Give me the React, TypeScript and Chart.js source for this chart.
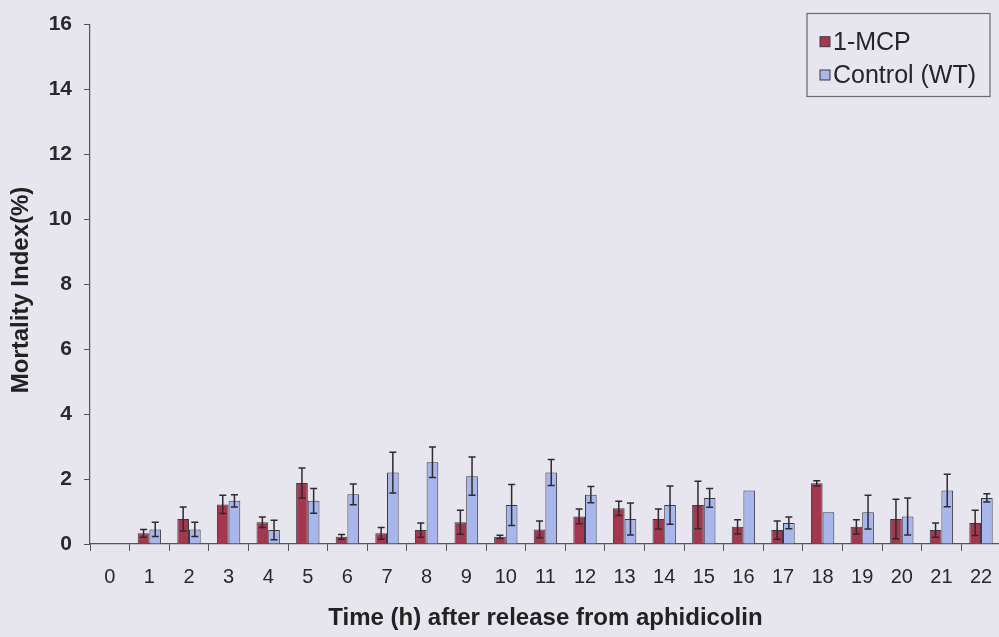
import React, { useEffect, useRef } from "react";
import { Chart, registerables } from "chart.js";

Chart.register(...registerables);

const categories = ["0","1","2","3","4","5","6","7","8","9","10","11","12","13","14","15","16","17","18","19","20","21","22"];
const mcpValues = [0, 0.33, 0.77, 1.22, 0.67, 1.88, 0.22, 0.33, 0.43, 0.67, 0.22, 0.45, 0.85, 1.1, 0.77, 1.2, 0.53, 0.43, 1.87, 0.53, 0.77, 0.43, 0.65];
const mcpErrors = [0, 0.12, 0.37, 0.28, 0.16, 0.46, 0.07, 0.18, 0.22, 0.37, 0.05, 0.26, 0.23, 0.22, 0.31, 0.73, 0.22, 0.28, 0.08, 0.22, 0.61, 0.22, 0.39];
const controlValues = [0, 0.45, 0.45, 1.33, 0.43, 1.33, 1.53, 2.2, 2.52, 2.09, 1.2, 2.2, 1.52, 0.77, 1.2, 1.42, 1.65, 0.65, 0.98, 0.98, 0.85, 1.65, 1.42];
const controlErrors = [0, 0.22, 0.22, 0.19, 0.3, 0.38, 0.32, 0.63, 0.47, 0.59, 0.63, 0.4, 0.25, 0.49, 0.59, 0.29, 0, 0.18, 0, 0.52, 0.57, 0.5, 0.13];
const seriesLabels = ["1-MCP", "Control (WT)"];
const yTicks = [0, 2, 4, 6, 8, 10, 12, 14, 16];
const yTitle = "Mortality Index(%)";
const xTitle = "Time (h) after release from aphidicolin";

const RED = "#a3374e";
const BLUE = "#a9b6ec";
const BORDER = "#3c3a44";
const BG = "#e7e5ee";
const FONT = "Arial, 'Liberation Sans', sans-serif";

const errorBarPlugin = {
  id: "errorBars",
  afterDatasetsDraw(chart: any) {
    const ctx = chart.ctx;
    const yScale = chart.scales.y;
    const errs = [mcpErrors, controlErrors];
    ctx.save();
    chart.data.datasets.forEach((ds: any, di: number) => {
      const meta = chart.getDatasetMeta(di);
      meta.data.forEach((bar: any, i: number) => {
        const v = ds.data[i];
        const e = errs[di][i];
        if (!e) return;
        const x = bar.x;
        const yTop = yScale.getPixelForValue(v + e);
        const yBot = yScale.getPixelForValue(Math.max(0, v - e));
        ctx.strokeStyle = "#2e2a30";
        ctx.lineWidth = 1.5;
        ctx.beginPath();
        ctx.moveTo(x, yTop);
        ctx.lineTo(x, yBot);
        ctx.moveTo(x - 3.5, yTop);
        ctx.lineTo(x + 3.5, yTop);
        ctx.moveTo(x - 3.5, yBot);
        ctx.lineTo(x + 3.5, yBot);
        ctx.stroke();
      });
    });
    ctx.restore();
  },
};

const legendPlugin = {
  id: "boxLegend",
  afterDraw(chart: any) {
    const ctx = chart.ctx;
    ctx.save();
    // y-axis title
    ctx.translate(21, 290);
    ctx.rotate(-Math.PI / 2);
    ctx.font = `bold 24px ${FONT}`;
    ctx.fillStyle = "#222";
    ctx.textAlign = "center";
    ctx.textBaseline = "middle";
    ctx.fillText(yTitle, 0, 0);
    ctx.restore();

    ctx.save();
    const bx = 807, by = 13.5, bw = 183, bh = 83;
    ctx.strokeStyle = "#6a6870";
    ctx.lineWidth = 1.2;
    ctx.strokeRect(bx, by, bw, bh);
    const colors = [RED, BLUE];
    const ys = [41.7, 75];
    ctx.font = `25px ${FONT}`;
    ctx.textBaseline = "middle";
    ctx.textAlign = "left";
    chart.data.datasets.forEach((ds: any, i: number) => {
      ctx.fillStyle = colors[i];
      ctx.fillRect(820, ys[i] - 5, 10, 10);
      ctx.strokeStyle = BORDER;
      ctx.lineWidth = 1;
      ctx.strokeRect(820, ys[i] - 5, 10, 10);
      ctx.fillStyle = "#262428";
      ctx.fillText(ds.label, 833, ys[i] + 1);
    });
    ctx.restore();
  },
};

export default function App() {
  const ref = useRef<HTMLCanvasElement | null>(null);
  useEffect(() => {
    if (!ref.current) return;
    const chart = new Chart(ref.current, {
      type: "bar",
      data: {
        labels: categories,
        datasets: [
          { label: seriesLabels[0], data: mcpValues, backgroundColor: RED, borderColor: BORDER, borderWidth: 1 },
          { label: seriesLabels[1], data: controlValues, backgroundColor: BLUE, borderColor: BORDER, borderWidth: 1 },
        ],
      },
      options: {
        animation: false,
        responsive: false,
        devicePixelRatio: 1,
        layout: { padding: { top: 19, right: 9.2, left: 0, bottom: 0 } },
        datasets: { bar: { categoryPercentage: 0.59, barPercentage: 1 } },
        plugins: { legend: { display: false }, tooltip: { enabled: false } },
        scales: {
          x: {
            offset: true,
            grid: { display: true, drawOnChartArea: false, drawTicks: true, tickLength: 7, color: "#555", offset: true },
            border: { display: true, color: "#555", width: 1.2 },
            ticks: { color: "#2a282c", font: { size: 20, family: FONT }, padding: 14, maxRotation: 0, autoSkip: false },
            title: {
              display: true,
              text: xTitle,
              color: "#222",
              font: { size: 24, weight: "bold", family: FONT },
              padding: { top: 0, bottom: 4 },
            },
            afterFit: (s: any) => { s.height = 93; },
          },
          y: {
            min: 0,
            max: 16,
            afterBuildTicks: (s: any) => { s.ticks = yTicks.map((v) => ({ value: v })); },
            grid: { display: true, drawOnChartArea: false, drawTicks: true, tickLength: 6, color: "#555" },
            border: { display: true, color: "#555", width: 1.2 },
            ticks: { color: "#2a282c", font: { size: 21, weight: "bold", family: FONT }, padding: 12 },
            title: { display: false },
            afterFit: (s: any) => { s.width = 90; },
          },
        },
      },
      plugins: [errorBarPlugin, legendPlugin],
    } as any);
    return () => chart.destroy();
  }, []);
  return (
    <div style={{ position: "fixed", left: 0, top: 0, width: 999, height: 637, overflow: "hidden", background: BG }}>
      <canvas ref={ref} width={1010} height={637} style={{ width: 1010, height: 637, display: "block" }} />
    </div>
  );
}
